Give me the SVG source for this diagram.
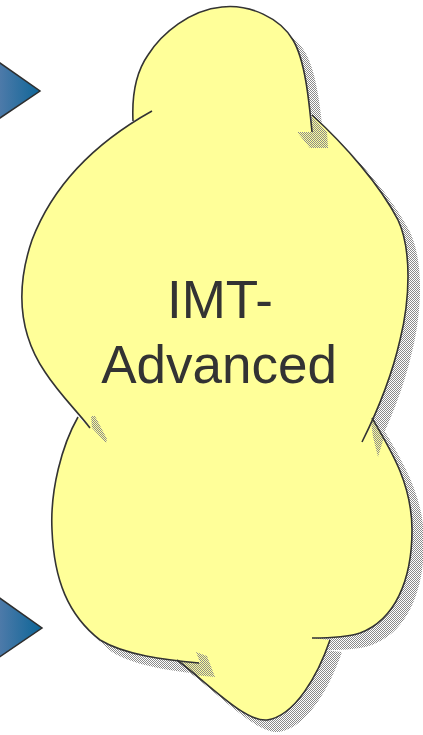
<svg xmlns="http://www.w3.org/2000/svg" width="423" height="735" viewBox="0 0 423 735">
  <defs>
    <pattern id="dither" width="2" height="2" patternUnits="userSpaceOnUse">
      <rect x="0" y="0" width="1" height="1" fill="#8a8a8a"/>
      <rect x="1" y="1" width="1" height="1" fill="#8a8a8a"/>
    </pattern>
    <linearGradient id="blue" gradientUnits="userSpaceOnUse" x1="0" y1="0" x2="40" y2="0">
      <stop offset="0" stop-color="#4d7aa9"/>
      <stop offset="1" stop-color="#0f6698"/>
    </linearGradient>
    <path id="cloudShape" d="M133,121 C132,100 134,75 148,55 C162,33 190,10 222,7 C250,4 280,18 293,40 C305,60 309,100 312,132 L312,115 C345,145 380,185 398,220 C412,250 410,300 400,340 C392,375 378,410 362,442 L372,418 C392,452 412,485 412,530 C412,580 395,620 360,633 C345,638 325,638 312,638 L330,640 C318,675 295,716 267,720 C245,722 210,685 177,660 L199,663 C165,660 125,655 100,640 C68,615 54,580 52,530 C50,490 62,445 78,417 L90,428 C78,412 60,395 45,372 C20,335 15,290 32,240 C55,180 100,140 152,111 Z"/>
  </defs>
  <style>
    .tri { fill: url(#blue); stroke: #2e2e2e; stroke-width: 1.5; stroke-linejoin: miter; }
    .line { fill: none; stroke: #333333; stroke-width: 1.6; stroke-linecap: butt; }
    .patch { fill: url(#dither); stroke: none; }
    .label { font-family: "Liberation Sans", Arial, sans-serif; font-size: 53px; fill: #333333; text-anchor: middle; }
  </style>

  <g id="arrow-top">
    <polygon class="tri" points="-40,35 40,91 -40,145"/>
  </g>
  <g id="arrow-bottom">
    <polygon class="tri" points="-40,570 42,628 -40,684"/>
  </g>

  <g id="cloud">
    <use href="#cloudShape" transform="translate(12,12)" fill="url(#dither)"/>
    <use href="#cloudShape" fill="#ffff99"/>
    <polygon class="patch" points="297,132 312,132 312,116 327,132 328,148 310,148"/>
    <polygon class="patch" points="178,662 200,662 196,652 207,656 215,677 193,675"/>
    <polygon class="patch" points="91,416 95,416 107,439 106,443 92,428"/>
    <polygon class="patch" points="371,421 376,419 385,434 378,457 373,437"/>
    <path class="line" d="M133,121 C132,100 134,75 148,55 C162,33 190,10 222,7 C250,4 280,18 293,40 C305,60 309,100 312,132"/>
    <path class="line" d="M312,115 C345,145 380,185 398,220 C412,250 410,300 400,340 C392,375 378,410 362,442"/>
    <path class="line" d="M372,418 C392,452 412,485 412,530 C412,580 395,620 360,633 C345,638 325,638 312,638"/>
    <path class="line" d="M330,640 C318,675 295,716 267,720 C245,722 210,685 177,660"/>
    <path class="line" d="M78,417 C62,445 50,490 52,530 C54,580 68,615 100,640 C125,655 165,660 199,663"/>
    <path class="line" d="M152,111 C100,140 55,180 32,240 C15,290 20,335 45,372 C60,395 78,412 90,428"/>
    <text class="label" x="220" y="318">IMT-</text>
    <text class="label" x="219" y="383">Advanced</text>
  </g>

  <g id="connectors"></g>
</svg>
